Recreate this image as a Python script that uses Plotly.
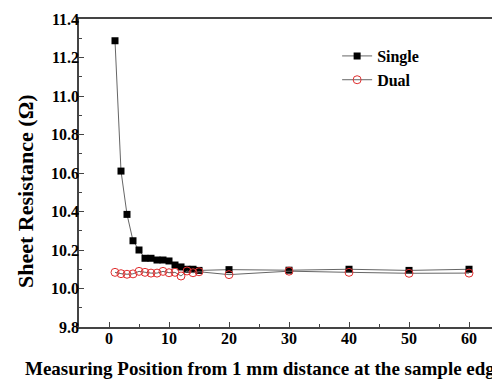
import plotly.graph_objects as go

positions = [1, 2, 3, 4, 5, 6, 7, 8, 9, 10, 11, 12, 13, 14, 15, 20, 30, 40, 50, 60]
single = [11.287, 10.61, 10.385, 10.248, 10.20, 10.157, 10.157, 10.148, 10.148, 10.143,
          10.122, 10.112, 10.10, 10.10, 10.094, 10.098, 10.095, 10.10, 10.094, 10.10]
dual = [10.084, 10.077, 10.074, 10.076, 10.089, 10.084, 10.08, 10.08, 10.089, 10.082,
        10.084, 10.065, 10.091, 10.082, 10.087, 10.072, 10.09, 10.084, 10.079, 10.08]

x_ticks = [0, 10, 20, 30, 40, 50, 60]
y_ticks = [9.8, 10.0, 10.2, 10.4, 10.6, 10.8, 11.0, 11.2, 11.4]

FONT = "Liberation Serif"

fig = go.Figure()
fig.add_trace(go.Scatter(
    x=positions, y=single, name="Single", mode="lines+markers",
    line=dict(color="#666666", width=1),
    marker=dict(symbol="square", size=7, color="black"),
))
fig.add_trace(go.Scatter(
    x=positions, y=dual, name="Dual", mode="lines+markers",
    line=dict(color="#666666", width=1),
    marker=dict(symbol="circle-open", size=8, color="#e03030", line=dict(width=1)),
))

axis_common = dict(
    showline=True, linecolor="#444444", linewidth=1.5, ticks="inside",
    tickcolor="#444444", ticklen=5, tickwidth=1, showgrid=False, zeroline=False,
    automargin=False,
    tickfont=dict(family=FONT, size=16, color="black", weight="bold"),
)

fig.update_xaxes(
    range=[-5, 63.83], tickvals=x_ticks, mirror=True, ticklabelstandoff=-4,
    minor=dict(ticks="inside", dtick=5, ticklen=3, tickcolor="#444444", showgrid=False),
    **axis_common,
)
fig.update_yaxes(
    range=[9.8, 11.4], tickvals=y_ticks, tickformat=".1f", ticklabelstandoff=-5,
    minor=dict(ticks="inside", dtick=0.1, ticklen=3, tickcolor="#444444", showgrid=False),
    **axis_common,
)

fig.add_annotation(
    text="Sheet Resistance (Ω)",
    xref="paper", yref="paper", x=(25 - 79) / 413, y=(327 - 191) / 308,
    xanchor="center", yanchor="middle", showarrow=False, textangle=-90,
    font=dict(family=FONT, size=22, color="black", weight="bold"),
)
fig.add_annotation(
    text="Measuring Position from 1 mm distance at the sample edge",
    xref="paper", yref="paper", x=(23 - 79) / 413, y=-(368 - 327) / 308,
    xanchor="left", yanchor="middle", showarrow=False,
    font=dict(family=FONT, size=19, color="black", weight="bold"),
)

fig.update_layout(
    width=492, height=380,
    margin=dict(l=79, r=0, t=19, b=53, autoexpand=False),
    paper_bgcolor="white", plot_bgcolor="white",
    showlegend=True,
    legend=dict(x=0.625, y=0.935, xanchor="left", yanchor="top",
                font=dict(family=FONT, size=16, color="black", weight="bold"),
                bgcolor="rgba(0,0,0,0)", itemwidth=30, tracegroupgap=0),
)

fig.write_html("out.html", config={"displayModeBar": False},
               post_script="document.body.style.margin='0';")
